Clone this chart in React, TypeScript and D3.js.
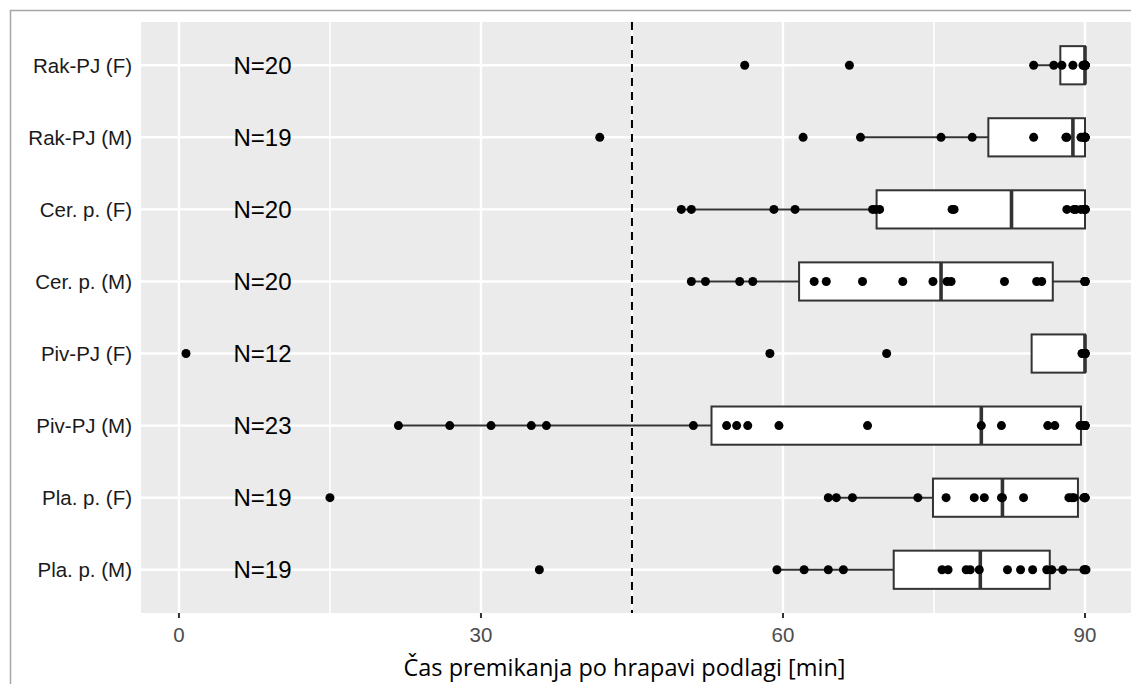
import React from "react";
import * as d3 from "d3";

const categories = [
  "Rak-PJ (F)",
  "Rak-PJ (M)",
  "Cer. p. (F)",
  "Cer. p. (M)",
  "Piv-PJ (F)",
  "Piv-PJ (M)",
  "Pla. p. (F)",
  "Pla. p. (M)",
];

const nLabels = ["N=20", "N=19", "N=20", "N=20", "N=12", "N=23", "N=19", "N=19"];

const rakF = [56.2, 66.6, 84.9, 86.9, 87.7, 88.8, 89.8, 89.9, 90, 90, 90, 90, 90, 90, 90, 90, 90, 90, 90, 90];
const rakM = [41.8, 62.0, 67.7, 75.7, 78.8, 84.9, 88.1, 88.2, 89.6, 89.8, 90, 90, 90, 90, 90, 90, 90, 90, 90];
const cerF = [49.9, 50.9, 59.1, 61.2, 68.9, 69.2, 69.6, 76.8, 77.0, 88.2, 88.9, 89.1, 89.6, 90, 90, 90, 90, 90, 90, 90];
const cerM = [50.9, 52.3, 55.7, 57.0, 63.1, 64.3, 67.9, 71.9, 74.9, 76.3, 76.7, 82.0, 85.2, 85.7, 90, 90, 90, 90, 90, 90];
const pivF = [0.7, 58.7, 70.3, 89.7, 89.8, 89.9, 90, 90, 90, 90, 90, 90];
const pivM = [21.8, 26.9, 31.0, 35.0, 36.5, 51.1, 54.4, 55.4, 56.5, 59.6, 68.4, 79.7, 81.7, 86.3, 87.0, 89.5, 89.8, 90, 90, 90, 90, 90, 90];
const plaF = [15.0, 64.5, 65.3, 66.9, 73.4, 76.2, 79.0, 80.0, 81.7, 81.8, 83.9, 88.4, 88.7, 88.9, 89.9, 90, 90, 90, 90];
const plaM = [35.8, 59.4, 62.1, 64.5, 66.0, 75.8, 76.4, 78.2, 78.6, 79.5, 82.3, 83.6, 84.8, 86.2, 86.7, 87.8, 89.9, 90.1, 90];

const groupPoints = [rakF, rakM, cerF, cerM, pivF, pivM, plaF, plaM];

// box statistics
const q1 = [87.55, 80.4, 69.3, 61.6, 84.7, 52.9, 74.9, 71.0];
const median = [90, 88.8, 82.7, 75.7, 90, 79.7, 81.8, 79.6];
const q3 = [90, 90, 90, 86.8, 90, 89.6, 89.3, 86.5];
const whiskerLo = [84.9, 67.7, 49.9, 50.9, 84.7, 21.8, 64.5, 59.4];
const whiskerHi = [90, 90, 90, 90, 90, 90, 90, 90];

const majorTicks = [0, 30, 60, 90];
const minorTicks = [15, 45, 75];
const refLine = 45;
const nLabelX = 8.3;
const xTitle = "Čas premikanja po hrapavi podlagi [min]";

export default function App() {
  const W = 1131;
  const H = 684;
  const panel = { left: 141, top: 22, right: 1131, bottom: 613 };

  const all = groupPoints.flat();
  const lo = d3.min(all) as number;
  const hi = d3.max(all) as number;
  const pad = (hi - lo) * 0.05;

  const x = d3.scaleLinear().domain([lo - pad, hi + pad]).range([panel.left, panel.right]);
  const y = d3.scalePoint<string>().domain(categories).range([panel.top, panel.bottom]).padding(0.6);
  const step = y.step();
  const boxH = step * 0.53;

  const sans = "'Liberation Sans', Arial, sans-serif";

  return (
    <div style={{ position: "absolute", left: 0, top: 0 }}>
      <svg width={W} height={H} style={{ display: "block", background: "#fff" }}>
        <rect x={10.5} y={10.5} width={1400} height={900} fill="none" stroke="#a6a6a6" strokeWidth={1.5} />
        <rect x={panel.left} y={panel.top} width={panel.right - panel.left} height={panel.bottom - panel.top} fill="#EBEBEB" />
        {minorTicks.map((t) => (
          <line key={"mn" + t} x1={x(t)} x2={x(t)} y1={panel.top} y2={panel.bottom} stroke="#fff" strokeWidth={1.6} />
        ))}
        {majorTicks.map((t) => (
          <line key={"mj" + t} x1={x(t)} x2={x(t)} y1={panel.top} y2={panel.bottom} stroke="#fff" strokeWidth={2.4} />
        ))}
        {categories.map((c) => (
          <line key={"hg" + c} x1={panel.left} x2={panel.right} y1={y(c)} y2={y(c)} stroke="#fff" strokeWidth={2.4} />
        ))}
        <line x1={x(refLine)} x2={x(refLine)} y1={panel.top} y2={panel.bottom} stroke="#000" strokeWidth={2} strokeDasharray="8,6" />
        {categories.map((c, i) => {
          const cy = y(c) as number;
          return (
            <g key={"box" + c}>
              <line x1={x(whiskerLo[i])} x2={x(q1[i])} y1={cy} y2={cy} stroke="#333" strokeWidth={2} />
              <line x1={x(q3[i])} x2={x(whiskerHi[i])} y1={cy} y2={cy} stroke="#333" strokeWidth={2} />
              <rect x={x(q1[i])} y={cy - boxH / 2} width={x(q3[i]) - x(q1[i])} height={boxH} fill="#fff" stroke="#333" strokeWidth={2} />
              <line x1={x(median[i])} x2={x(median[i])} y1={cy - boxH / 2} y2={cy + boxH / 2} stroke="#333" strokeWidth={3.6} />
            </g>
          );
        })}
        {categories.map((c, i) => (
          <g key={"pts" + c}>
            {groupPoints[i].map((v, j) => (
              <circle key={j} cx={x(v)} cy={y(c)} r={4.5} fill="#000" />
            ))}
          </g>
        ))}
        {categories.map((c, i) => (
          <text key={"n" + c} x={x(nLabelX)} y={y(c)} dy="0.36em" textAnchor="middle" fontFamily={sans} fontSize={24} fill="#000">
            {nLabels[i]}
          </text>
        ))}
        {categories.map((c) => (
          <text key={"yl" + c} x={132} y={y(c)} dy="0.36em" textAnchor="end" fontFamily={sans} fontSize={20.5} fill="#1a1a1a">
            {c}
          </text>
        ))}
        {majorTicks.map((t) => (
          <g key={"tk" + t}>
            <line x1={x(t)} x2={x(t)} y1={panel.bottom} y2={panel.bottom + 5} stroke="#333" strokeWidth={2} />
            <text x={x(t)} y={642} textAnchor="middle" fontFamily={sans} fontSize={20.5} fill="#4d4d4d">
              {t}
            </text>
          </g>
        ))}
        <text x={624.5} y={676} textAnchor="middle" fontFamily="'Open Sans', sans-serif" fontSize={23.5} fill="#000">
          {xTitle}
        </text>
      </svg>
    </div>
  );
}
